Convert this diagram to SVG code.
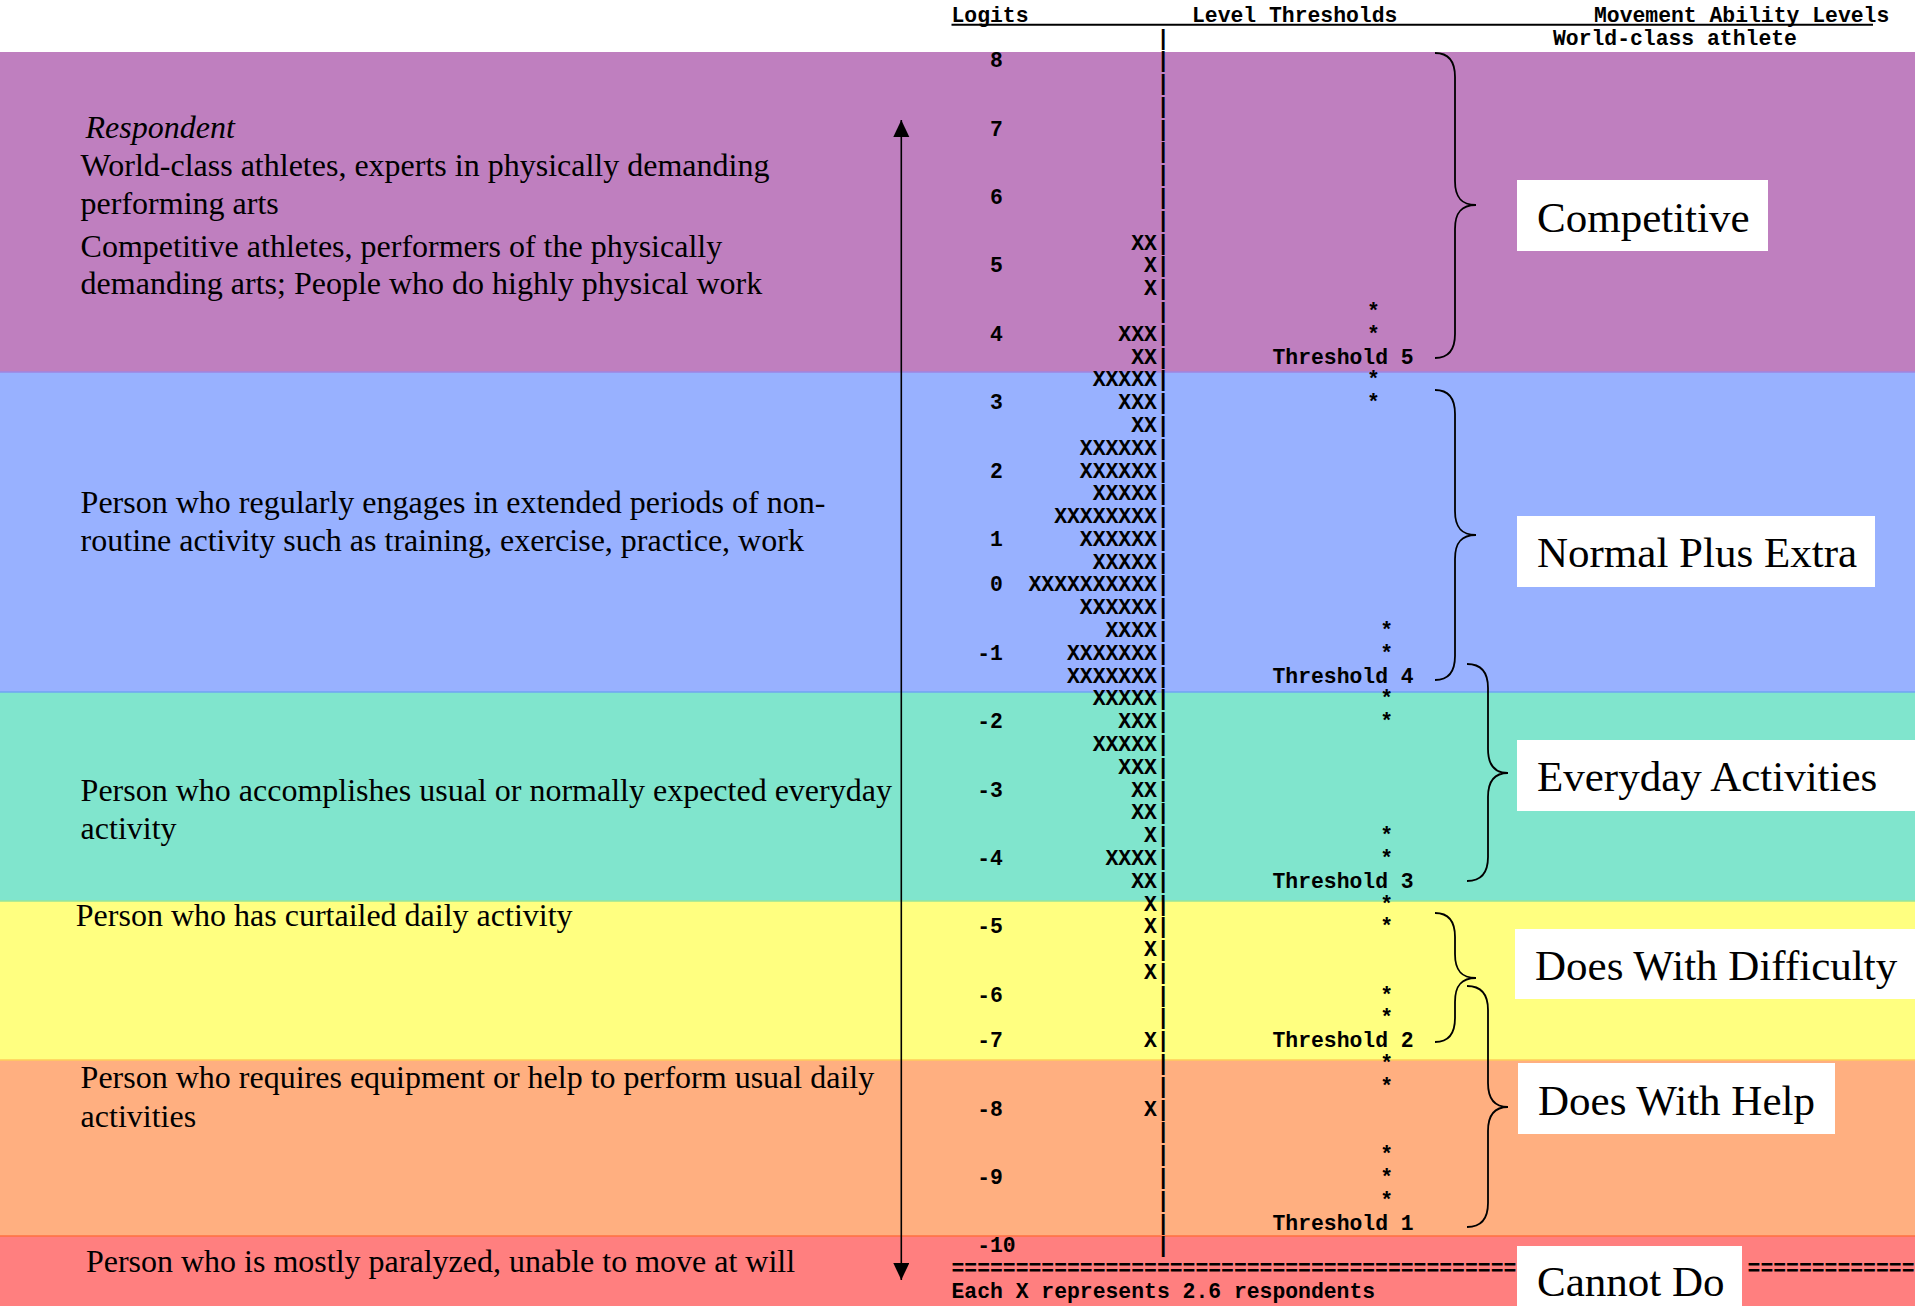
<svg xmlns="http://www.w3.org/2000/svg" width="1915" height="1306" viewBox="0 0 1915 1306">
<style>
.m{font-family:"Liberation Mono","Courier New",monospace;font-weight:bold;font-size:21.4px;fill:#000}
.bar{text-anchor:end}
.lg{text-anchor:end}
.st{text-anchor:middle}
.d{font-family:"Liberation Serif","Times New Roman",serif;font-size:32px;fill:#000}
.lb{font-family:"Liberation Serif","Times New Roman",serif;font-size:43px;fill:#000}
.box{fill:#fff}
.br{fill:none;stroke:#000;stroke-width:1.8}
</style>
<defs>
<marker id="ah" markerUnits="userSpaceOnUse" markerWidth="18" markerHeight="18" refX="17" refY="8" orient="auto-start-reverse">
<path d="M0,0 L17,8 L0,16 z" fill="#000"/>
</marker>
</defs>
<rect x="0" y="0" width="1915" height="1306" fill="#fff"/>
<g id="bands">
<rect id="band-competitive" x="0" y="52" width="1915" height="320" fill="#BF7FBF"/>
<rect id="band-normal" x="0" y="372" width="1915" height="320" fill="#98B1FF"/>
<rect id="band-everyday" x="0" y="692" width="1915" height="209" fill="#80E5CD"/>
<rect id="band-difficulty" x="0" y="901" width="1915" height="159" fill="#FFFF80"/>
<rect id="band-help" x="0" y="1060" width="1915" height="176" fill="#FFAF80"/>
<rect id="band-cannot" x="0" y="1236" width="1915" height="70" fill="#FF7F7F"/>
<line x1="0" y1="372" x2="1915" y2="372" stroke="#9F85E0" stroke-width="1.5"/>
<line x1="0" y1="692" x2="1915" y2="692" stroke="#6FA5F2" stroke-width="1.5"/>
<line x1="0" y1="901" x2="1915" y2="901" stroke="#96E69A" stroke-width="1.5"/>
<line x1="0" y1="1060" x2="1915" y2="1060" stroke="#FFCC5A" stroke-width="1.5"/>
<line x1="0" y1="1236" x2="1915" y2="1236" stroke="#FF7040" stroke-width="1.5"/>
</g>
<g id="descriptions">
<text class="d" x="85.5" y="138" font-style="italic">Respondent</text>
<text class="d" x="80.6" y="176">World-class athletes, experts in physically demanding</text>
<text class="d" x="80.6" y="214">performing arts</text>
<text class="d" x="80.6" y="256.5">Competitive athletes, performers of the physically</text>
<text class="d" x="80.6" y="293.5">demanding arts; People who do highly physical work</text>
<text class="d" x="80.6" y="513">Person who regularly engages in extended periods of non-</text>
<text class="d" x="80.6" y="550.5">routine activity such as training, exercise, practice, work</text>
<text class="d" x="80.6" y="800.5">Person who accomplishes usual or normally expected everyday</text>
<text class="d" x="80.6" y="838.5">activity</text>
<text class="d" x="75.8" y="925.7">Person who has curtailed daily activity</text>
<text class="d" x="80.6" y="1088.3">Person who requires equipment or help to perform usual daily</text>
<text class="d" x="80.6" y="1126.5">activities</text>
<text class="d" x="85.9" y="1271.7">Person who is mostly paralyzed, unable to move at will</text>
</g>
<g id="map">
<text class="m" x="951.5" y="21.72">Logits</text>
<text class="m" x="1192" y="21.72">Level Thresholds</text>
<text class="m" x="1594" y="21.72">Movement Ability Levels</text>
<line x1="951.5" y1="24.8" x2="1873" y2="24.8" stroke="#000" stroke-width="2"/>
<text class="m" x="1553" y="44.51">World-class athlete</text>
<g id="logits">
<text class="m lg" x="1002.9" y="67.30">8</text>
<text class="m lg" x="1002.9" y="135.67">7</text>
<text class="m lg" x="1002.9" y="204.04">6</text>
<text class="m lg" x="1002.9" y="272.41">5</text>
<text class="m lg" x="1002.9" y="340.78">4</text>
<text class="m lg" x="1002.9" y="409.15">3</text>
<text class="m lg" x="1002.9" y="477.52">2</text>
<text class="m lg" x="1002.9" y="545.89">1</text>
<text class="m lg" x="1002.9" y="591.47">0</text>
<text class="m lg" x="1002.9" y="659.84">-1</text>
<text class="m lg" x="1002.9" y="728.21">-2</text>
<text class="m lg" x="1002.9" y="796.58">-3</text>
<text class="m lg" x="1002.9" y="864.95">-4</text>
<text class="m lg" x="1002.9" y="933.32">-5</text>
<text class="m lg" x="1002.9" y="1001.69">-6</text>
<text class="m lg" x="1002.9" y="1047.27">-7</text>
<text class="m lg" x="1002.9" y="1115.64">-8</text>
<text class="m lg" x="1002.9" y="1184.01">-9</text>
<text class="m" x="977.2" y="1252.38">-10</text>
</g>
<g id="persons">
<text class="m bar" x="1169.7" y="44.51">|</text>
<text class="m bar" x="1169.7" y="67.30">|</text>
<text class="m bar" x="1169.7" y="90.09">|</text>
<text class="m bar" x="1169.7" y="112.88">|</text>
<text class="m bar" x="1169.7" y="135.67">|</text>
<text class="m bar" x="1169.7" y="158.46">|</text>
<text class="m bar" x="1169.7" y="181.25">|</text>
<text class="m bar" x="1169.7" y="204.04">|</text>
<text class="m bar" x="1169.7" y="226.83">|</text>
<text class="m bar" x="1169.7" y="249.62">XX|</text>
<text class="m bar" x="1169.7" y="272.41">X|</text>
<text class="m bar" x="1169.7" y="295.20">X|</text>
<text class="m bar" x="1169.7" y="317.99">|</text>
<text class="m bar" x="1169.7" y="340.78">XXX|</text>
<text class="m bar" x="1169.7" y="363.57">XX|</text>
<text class="m bar" x="1169.7" y="386.36">XXXXX|</text>
<text class="m bar" x="1169.7" y="409.15">XXX|</text>
<text class="m bar" x="1169.7" y="431.94">XX|</text>
<text class="m bar" x="1169.7" y="454.73">XXXXXX|</text>
<text class="m bar" x="1169.7" y="477.52">XXXXXX|</text>
<text class="m bar" x="1169.7" y="500.31">XXXXX|</text>
<text class="m bar" x="1169.7" y="523.10">XXXXXXXX|</text>
<text class="m bar" x="1169.7" y="545.89">XXXXXX|</text>
<text class="m bar" x="1169.7" y="568.68">XXXXX|</text>
<text class="m bar" x="1169.7" y="591.47">XXXXXXXXXX|</text>
<text class="m bar" x="1169.7" y="614.26">XXXXXX|</text>
<text class="m bar" x="1169.7" y="637.05">XXXX|</text>
<text class="m bar" x="1169.7" y="659.84">XXXXXXX|</text>
<text class="m bar" x="1169.7" y="682.63">XXXXXXX|</text>
<text class="m bar" x="1169.7" y="705.42">XXXXX|</text>
<text class="m bar" x="1169.7" y="728.21">XXX|</text>
<text class="m bar" x="1169.7" y="751.00">XXXXX|</text>
<text class="m bar" x="1169.7" y="773.79">XXX|</text>
<text class="m bar" x="1169.7" y="796.58">XX|</text>
<text class="m bar" x="1169.7" y="819.37">XX|</text>
<text class="m bar" x="1169.7" y="842.16">X|</text>
<text class="m bar" x="1169.7" y="864.95">XXXX|</text>
<text class="m bar" x="1169.7" y="887.74">XX|</text>
<text class="m bar" x="1169.7" y="910.53">X|</text>
<text class="m bar" x="1169.7" y="933.32">X|</text>
<text class="m bar" x="1169.7" y="956.11">X|</text>
<text class="m bar" x="1169.7" y="978.90">X|</text>
<text class="m bar" x="1169.7" y="1001.69">|</text>
<text class="m bar" x="1169.7" y="1024.48">|</text>
<text class="m bar" x="1169.7" y="1047.27">X|</text>
<text class="m bar" x="1169.7" y="1070.06">|</text>
<text class="m bar" x="1169.7" y="1092.85">|</text>
<text class="m bar" x="1169.7" y="1115.64">X|</text>
<text class="m bar" x="1169.7" y="1138.43">|</text>
<text class="m bar" x="1169.7" y="1161.22">|</text>
<text class="m bar" x="1169.7" y="1184.01">|</text>
<text class="m bar" x="1169.7" y="1206.80">|</text>
<text class="m bar" x="1169.7" y="1229.59">|</text>
<text class="m bar" x="1169.7" y="1252.38">|</text>
</g>
<g id="thresholds">
<text class="m st" x="1373.3" y="317.99">*</text>
<text class="m st" x="1373.3" y="340.78">*</text>
<text class="m" x="1272.5" y="363.57">Threshold 5</text>
<text class="m st" x="1373.3" y="386.36">*</text>
<text class="m st" x="1373.3" y="409.15">*</text>
<text class="m st" x="1386.7" y="637.05">*</text>
<text class="m st" x="1386.7" y="659.84">*</text>
<text class="m" x="1272.5" y="682.63">Threshold 4</text>
<text class="m st" x="1386.7" y="705.42">*</text>
<text class="m st" x="1386.7" y="728.21">*</text>
<text class="m st" x="1386.7" y="842.16">*</text>
<text class="m st" x="1386.7" y="864.95">*</text>
<text class="m" x="1272.5" y="887.74">Threshold 3</text>
<text class="m st" x="1386.7" y="910.53">*</text>
<text class="m st" x="1386.7" y="933.32">*</text>
<text class="m st" x="1386.7" y="1001.69">*</text>
<text class="m st" x="1386.7" y="1024.48">*</text>
<text class="m" x="1272.5" y="1047.27">Threshold 2</text>
<text class="m st" x="1386.7" y="1070.06">*</text>
<text class="m st" x="1386.7" y="1092.85">*</text>
<text class="m st" x="1386.7" y="1161.22">*</text>
<text class="m st" x="1386.7" y="1184.01">*</text>
<text class="m st" x="1386.7" y="1206.80">*</text>
<text class="m" x="1272.5" y="1229.59">Threshold 1</text>
</g>
<text class="m" x="951.5" y="1275.17">============================================</text>
<text class="m" x="1747.6" y="1275.17">=============</text>
<text class="m" x="951.5" y="1297.96">Each X represents 2.6 respondents</text>
</g>
<g id="connectors">
<line x1="901.3" y1="120" x2="901.3" y2="1280" stroke="#000" stroke-width="1.6" marker-start="url(#ah)" marker-end="url(#ah)"/>
<path class="br" d="M1435,53 C1449,53 1455,61 1455,77 L1455,181 C1455,197 1461,205 1476,205 M1476,205 C1461,205 1455,213 1455,229 L1455,334 C1455,350 1449,358 1435,358"/>
<path class="br" d="M1435,390 C1449,390 1455,398 1455,414 L1455,511 C1455,527 1461,535 1476,535 M1476,535 C1461,535 1455,543 1455,559 L1455,656 C1455,672 1449,680 1435,680"/>
<path class="br" d="M1467,664 C1481,664 1488,672 1488,688 L1488,749 C1488,765 1494,773 1508,773 M1508,773 C1494,773 1488,781 1488,797 L1488,857 C1488,873 1481,881 1467,881"/>
<path class="br" d="M1435,913 C1449,913 1455,921 1455,937 L1455,954 C1455,970 1461,978 1476,978 M1476,978 C1461,978 1455,986 1455,1002 L1455,1018 C1455,1034 1449,1042 1435,1042"/>
<path class="br" d="M1467,986 C1481,986 1488,994 1488,1010 L1488,1083 C1488,1099 1494,1107 1508,1107 M1508,1107 C1494,1107 1488,1115 1488,1131 L1488,1203 C1488,1219 1481,1227 1467,1227"/>
</g>
<g id="level-competitive"><rect class="box" x="1517" y="180" width="251" height="71"/><text class="lb" x="1537" y="232">Competitive</text></g>
<g id="level-normal-plus-extra"><rect class="box" x="1517" y="516" width="358" height="71"/><text class="lb" x="1537" y="567">Normal Plus Extra</text></g>
<g id="level-everyday"><rect class="box" x="1517" y="740" width="398" height="71"/><text class="lb" x="1537" y="791">Everyday Activities</text></g>
<g id="level-difficulty"><rect class="box" x="1515" y="929" width="400" height="70"/><text class="lb" x="1535" y="980">Does With Difficulty</text></g>
<g id="level-help"><rect class="box" x="1518" y="1063" width="317" height="71"/><text class="lb" x="1538" y="1115">Does With Help</text></g>
<g id="level-cannot"><rect class="box" x="1517" y="1246" width="225" height="60"/><text class="lb" x="1537" y="1296">Cannot Do</text></g>
</svg>
